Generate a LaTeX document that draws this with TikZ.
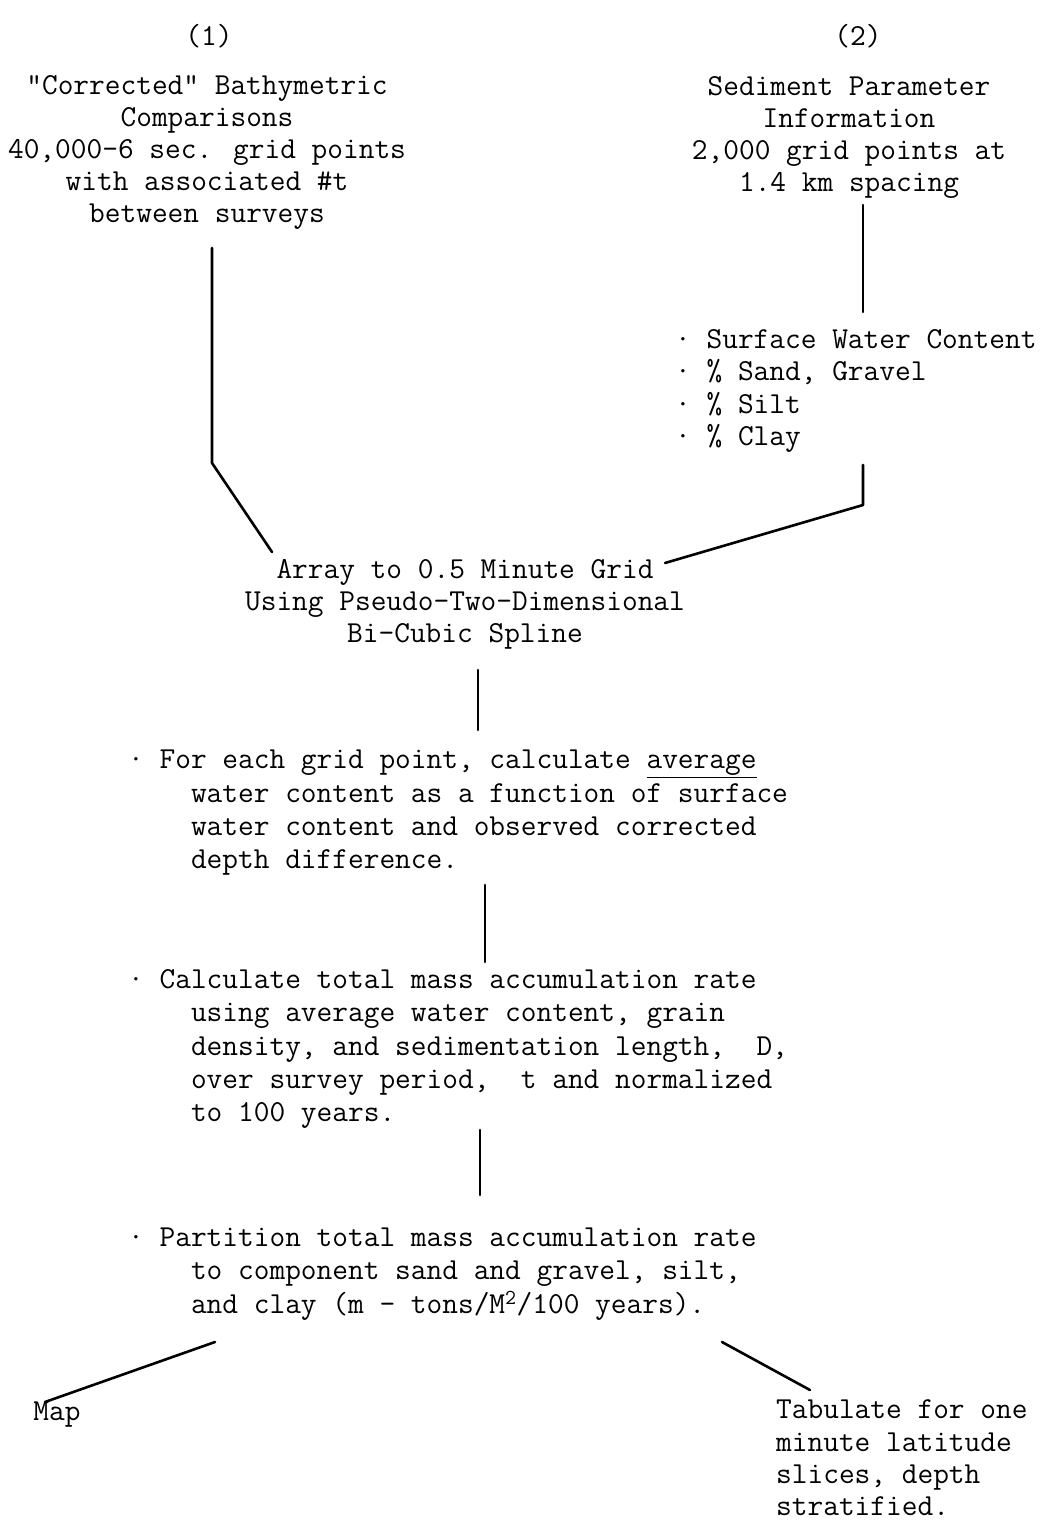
\documentclass[tikz,border=0pt]{standalone}
\usepackage{fontspec}
\usepackage{tikz}
\usetikzlibrary{calc}

\begin{document}
\begin{tikzpicture}[x=1pt,y=-1pt,
  txt/.style={font=\fontsize{30.5}{32}\selectfont\ttfamily,inner sep=0pt,align=center},
  lst/.style={font=\fontsize{30.5}{33.3}\selectfont\ttfamily,inner sep=0pt,align=left,anchor=west},
  link/.style={line width=2.6pt,line join=round,line cap=round}]
\useasboundingbox (0,0) rectangle (1048,1522);
% the two sources
\node[txt] (one) at (209,36) {(1)};
\node[txt] (two) at (858,36) {(2)};
\node[txt] (bathy) at (207,152) {"Corrected" Bathymetric\\Comparisons\\40,000-6 sec. grid points\\with associated \#t\\between surveys};
\node[txt] (sedi) at (849,137) {Sediment Parameter\\Information\\2,000 grid points at\\1.4 km spacing};
\node[lst,font=\fontsize{30.5}{32.5}\selectfont\ttfamily] (param) at (675,391) {· Surface Water Content\\· \% Sand, Gravel\\· \% Silt\\· \% Clay};
% the steps
\node[txt] (grid) at (465,604) {Array to 0.5 Minute Grid\\Using Pseudo-Two-Dimensional\\Bi-Cubic Spline};
\node[lst] (avg) at (128,813) {· For each grid point, calculate \underline{average}\\
  \hphantom{xxxx}water content as a function of surface\\
  \hphantom{xxxx}water content and observed corrected\\
  \hphantom{xxxx}depth difference.};
\node[lst] (rate) at (128,1049) {· Calculate total mass accumulation rate\\
  \hphantom{xxxx}using average water content, grain\\
  \hphantom{xxxx}density, and sedimentation length,\ \ D,\\
  \hphantom{xxxx}over survey period,\ \ t and normalized\\
  \hphantom{xxxx}to 100 years.};
\node[lst] (part) at (128,1274) {· Partition total mass accumulation rate\\
  \hphantom{xxxx}to component sand and gravel, silt,\\
  \hphantom{xxxx}and clay (m - tons/M\textsuperscript{2}/100 years).};
% the outputs
\node[txt] (map) at (57,1415) {Map};
\node[lst,font=\fontsize{30.5}{32.3}\selectfont\ttfamily] (tab) at (776,1458) {Tabulate for one\\minute latitude\\slices, depth\\stratified.};
% connectors
\coordinate (lt) at (212,248);
\coordinate (lc) at (212,463);
\coordinate (le) at (272,552);
\coordinate (st) at (863,205);
\coordinate (sb) at (863,312);
\coordinate (rt) at (863,465);
\coordinate (rc) at (863,505);
\coordinate (re) at (665,563);
\coordinate (ga) at (478,670);
\coordinate (gb) at (478,730);
\coordinate (aa) at (485,885);
\coordinate (ab) at (485,962);
\coordinate (ra) at (480,1130);
\coordinate (rb) at (480,1195);
\coordinate (pm) at (215,1342);
\coordinate (mp) at (45,1402);
\coordinate (pt) at (722,1342);
\coordinate (tp) at (810,1390);
\draw[link] (lt) -- (lc) -- (le);
\draw[link] (st) -- (sb);
\draw[link] (rt) -- (rc) -- (re);
\draw[link] (ga) -- (gb);
\draw[link] (aa) -- (ab);
\draw[link] (ra) -- (rb);
\draw[link] (pm) -- (mp);
\draw[link] (pt) -- (tp);
\end{tikzpicture}
\end{document}
